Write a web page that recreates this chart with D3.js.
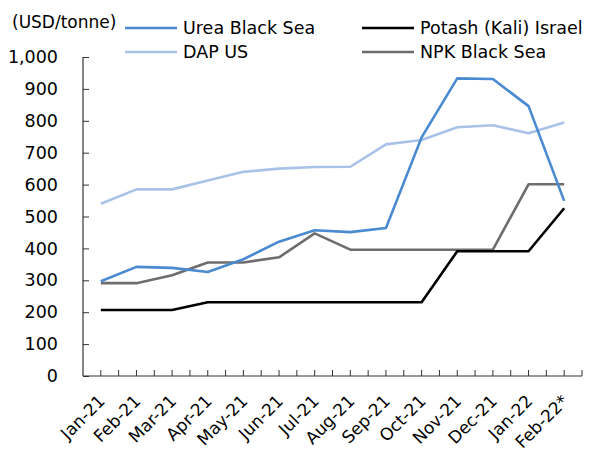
<!DOCTYPE html>
<html><head><meta charset="utf-8">
<script src="https://cdn.jsdelivr.net/npm/d3@7"></script>
<style>body{margin:0;background:#fff}svg{display:block}text{font-family:"DejaVu Sans",sans-serif;fill:#000}</style>
</head><body>
<script>
const categories = ["Jan-21","Feb-21","Mar-21","Apr-21","May-21","Jun-21","Jul-21","Aug-21","Sep-21","Oct-21","Nov-21","Dec-21","Jan-22","Feb-22*"];
const ureaBlackSea = [297,342,339,326,366,421,457,451,464,748,933,931,846,549];
const dapUS = [540,585,585,613,640,650,655,656,726,740,780,786,761,795];
const potashIsrael = [207,207,207,231,231,231,231,231,231,231,391,391,391,526];
const npkBlackSea = [291,291,316,356,356,372,447,396,396,396,396,396,601,601];
const yTicks = [0,100,200,300,400,500,600,700,800,900,1000];
const seriesNames = ["Urea Black Sea","DAP US","Potash (Kali) Israel","NPK Black Sea"];
const seriesColors = ["#4a8ad0","#a9c3e8","#000000","#6d6d6d"];
const seriesData = [ureaBlackSea, dapUS, potashIsrael, npkBlackSea];

const W=590,H=450;
const svg=d3.select("body").append("svg").attr("width",W).attr("height",H);
const x0=83,x1=582,yTop=57,yBot=376;
const x=d3.scaleBand().domain(categories).range([x0,x1]);
const y=d3.scaleLinear().domain([0,1000]).range([yBot,yTop]);

// y axis (ticks point inward)
const ya=svg.append("g").attr("transform",`translate(${x0},0)`)
  .call(d3.axisLeft(y).tickValues(yTicks).tickFormat(d3.format(",")).tickSize(-6).tickPadding(25));
ya.select(".domain").attr("stroke","#333").attr("stroke-width",1.2).attr("d",`M0,${yTop}V${yBot}`);
ya.selectAll(".tick line").attr("stroke","#333");
ya.selectAll("text").style("font-size","17.5px");

// x axis line and ticks (at band edges and centers, pointing inward)
const xg=svg.append("g");
xg.append("line").attr("x1",x0).attr("x2",x1).attr("y1",yBot).attr("y2",yBot).attr("stroke","#333").attr("stroke-width",1.2);
const tickPos=[];
categories.forEach(c=>{tickPos.push(x(c)+x.bandwidth()/2);tickPos.push(x(c)+x.bandwidth());});
xg.selectAll(".xt").data(tickPos).join("line").attr("x1",d=>d).attr("x2",d=>d).attr("y1",yBot).attr("y2",yBot-6).attr("stroke","#333");
xg.selectAll(".xl").data(categories).join("text")
  .attr("transform",d=>`translate(${x(d)+x.bandwidth()/2+1},${yBot+22}) rotate(-45)`)
  .attr("text-anchor","end").attr("dy","0.35em").style("font-size","17px").text(d=>d);

// lines
const line=d3.line().x((d,i)=>x(categories[i])+x.bandwidth()/2).y(d=>y(d));
const order=[1,3,2,0];
order.forEach(k=>{
  svg.append("path").datum(seriesData[k]).attr("d",line).attr("fill","none")
    .attr("stroke",seriesColors[k]).attr("stroke-width",2.6).attr("stroke-linejoin","round");
});

// unit label
svg.append("text").attr("x",12).attr("y",22).attr("dy","0.35em").style("font-size","17px").text("(USD/tonne)");

// legend
const leg=[{i:0,lx:125,ty:28},{i:1,lx:125,ty:52},{i:2,lx:362,ty:28},{i:3,lx:362,ty:52}];
leg.forEach(l=>{
  svg.append("line").attr("x1",l.lx).attr("x2",l.lx+52).attr("y1",l.ty).attr("y2",l.ty)
    .attr("stroke",seriesColors[l.i]).attr("stroke-width",2.6);
  svg.append("text").attr("x",l.lx+58).attr("y",l.ty).attr("dy","0.35em").style("font-size","17.5px").text(seriesNames[l.i]);
});
</script>
</body></html>
